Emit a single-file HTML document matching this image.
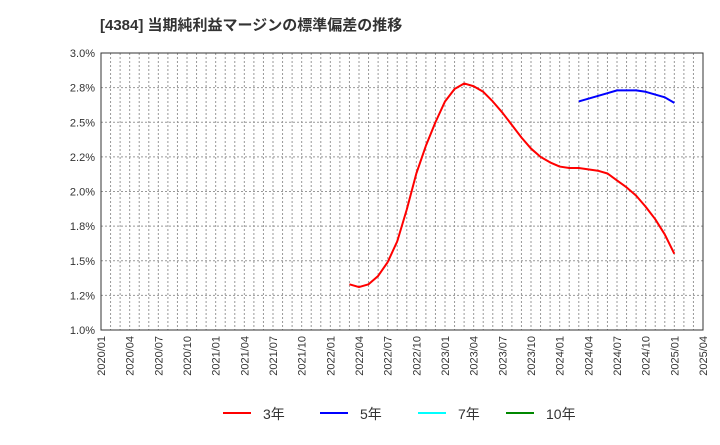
<!DOCTYPE html>
<html><head><meta charset="utf-8"><style>
body{margin:0;background:#fff;width:720px;height:440px;overflow:hidden}
svg{font-family:"Liberation Sans","Noto Sans CJK JP",sans-serif}
</style></head><body>
<svg id="c" width="720" height="440">
<text x="100" y="30" font-size="15" font-weight="bold" fill="#333">[4384]  当期純利益マージンの標準偏差の推移</text>
<g id="grid"></g><g id="axes"></g><g id="series"></g>
<g>
<line x1="223" y1="413" x2="251" y2="413" stroke="#f00" stroke-width="2"/><text x="263" y="419" font-size="14" fill="#333">3年</text>
<line x1="320" y1="413" x2="348" y2="413" stroke="#00f" stroke-width="2"/><text x="360" y="419" font-size="14" fill="#333">5年</text>
<line x1="418" y1="413" x2="446" y2="413" stroke="#0ff" stroke-width="2"/><text x="458" y="419" font-size="14" fill="#333">7年</text>
<line x1="506" y1="413" x2="534" y2="413" stroke="#080" stroke-width="2"/><text x="546" y="419" font-size="14" fill="#333">10年</text>
</g>
</svg>
<script>
const yTicks=[1.0,1.25,1.5,1.75,2.0,2.25,2.5,2.75,3.0];
const yTickLabels=["1.0%","1.2%","1.5%","1.8%","2.0%","2.2%","2.5%","2.8%","3.0%"];
const xTickLabels=["2020/01","2020/04","2020/07","2020/10","2021/01","2021/04","2021/07","2021/10","2022/01","2022/04","2022/07","2022/10","2023/01","2023/04","2023/07","2023/10","2024/01","2024/04","2024/07","2024/10","2025/01","2025/04"];
const red3Start=26;
const red3=[1.33,1.31,1.33,1.39,1.49,1.64,1.87,2.13,2.33,2.50,2.65,2.74,2.78,2.76,2.72,2.65,2.57,2.48,2.39,2.31,2.25,2.21,2.18,2.17,2.17,2.16,2.15,2.13,2.08,2.03,1.97,1.89,1.80,1.69,1.55];
const blue5Start=50;
const blue5=[2.65,2.67,2.69,2.71,2.73,2.73,2.73,2.72,2.70,2.68,2.64];
const L=101,R=703,T=53,B=330,NM=63;
const X=m=>L+(R-L)*m/NM, Y=v=>B-(v-1)/(2)*(B-T);
const ns="http://www.w3.org/2000/svg";
function mk(p,t,a){const e=document.createElementNS(ns,t);for(const k in a)e.setAttribute(k,a[k]);p.appendChild(e);return e;}
const g=document.getElementById('grid'),ax=document.getElementById('axes'),s=document.getElementById('series');
for(let m=1;m<NM;m++){const l=mk(g,'line',{x1:X(m),x2:X(m),y1:T,y2:B,stroke:'#999','stroke-dasharray':'2,2','stroke-width':1});

}
yTicks.forEach((v,i)=>{if(i>0&&i<yTicks.length-1){const l=mk(g,'line',{x1:L,x2:R,y1:Y(v),y2:Y(v),stroke:'#999','stroke-dasharray':'2,2'});

}
const t=mk(ax,'text',{x:L-6,y:Y(v)+4,'font-size':11,fill:'#333','text-anchor':'end'});t.textContent=yTickLabels[i];

});
xTickLabels.forEach((lb,i)=>{const x=X(i*3);const t=mk(ax,'text',{x:x+4,y:B+6,'font-size':11,fill:'#333','text-anchor':'end',transform:`rotate(-90 ${x+4} ${B+6})`});t.textContent=lb;

});
const f=mk(ax,'rect',{x:L,y:T,width:R-L,height:B-T,fill:'none',stroke:'#333'});


function line(d,st,c,n){const p=mk(s,'polyline',{points:d.map((v,i)=>X(st+i)+','+Y(v)).join(' '),fill:'none',stroke:c,'stroke-width':2,'stroke-linejoin':'round'});

}
line(red3,red3Start,'#f00','series-3y');
line(blue5,blue5Start,'#00f','series-5y');
</script>
</body></html>
